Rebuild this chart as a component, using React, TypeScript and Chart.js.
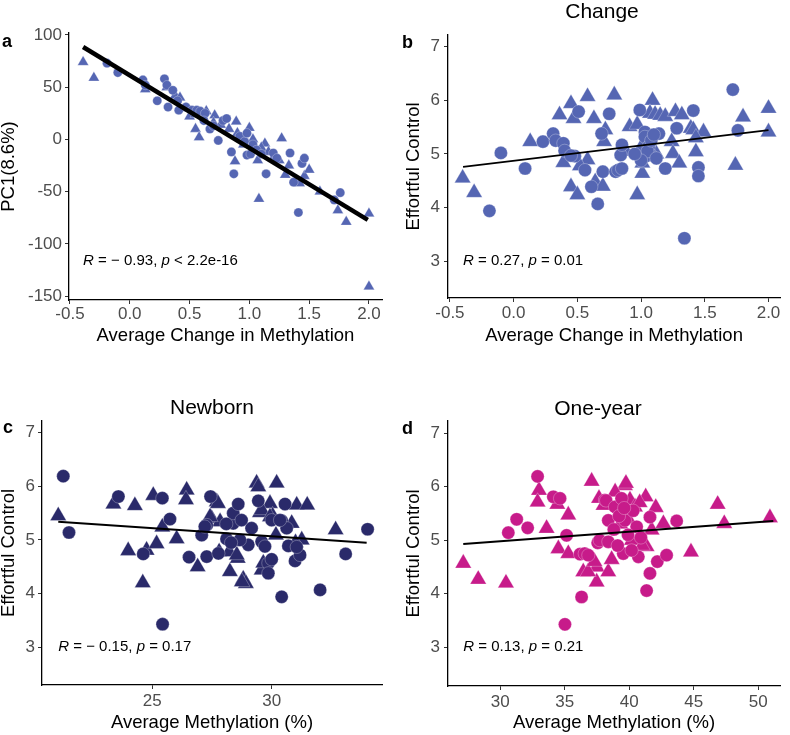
import React, { useEffect, useRef } from "react";
import { Chart, registerables } from "chart.js";

Chart.register(...registerables);

const FONT = "'Liberation Sans', Arial, Helvetica, sans-serif";

// ---------- tick values ----------
const changeTicks = [-0.5, 0, 0.5, 1, 1.5, 2];
const pcTicks = [-150, -100, -50, 0, 50, 100];
const ecTicks = [3, 4, 5, 6, 7];
const newbornTicks = [25, 30];
const oneYearTicks = [30, 35, 40, 45, 50];

// ---------- panel a: PC1 vs average change ----------
const pcCircleX = [-0.19, -0.10, 0.11, 0.13, 0.23, 0.29, 0.31, 0.32, 0.36, 0.40, 0.41, 0.47, 0.52, 0.56, 0.59, 0.63, 0.67, 0.70, 0.74, 0.78, 0.81, 0.85, 0.87, 0.92, 0.96, 0.98, 0.98, 1.01, 1.03, 1.06, 1.10, 1.14, 1.20, 1.23, 1.34, 1.37, 1.41, 1.44, 1.46, 1.71, 1.76, 0.62];
const pcCircleY = [73, 64, 57, 52, 37, 58, 52, 31, 47, 37, 28, 31, 28, 28, 27, 25, 10, 13, -1, 18, 20, -12, -33, 3, -2, 6, -15, -14, -5, -10, -14, -33, -13, -18, -13, -41, -70, -23, -18, -58, -51, 18];
const pcTriX = [-0.39, -0.30, 0.13, 0.31, 0.38, 0.42, 0.50, 0.55, 0.58, 0.55, 0.64, 0.71, 0.70, 0.76, 0.89, 0.88, 0.90, 0.95, 1.00, 1.03, 1.08, 1.13, 1.07, 1.10, 1.16, 1.27, 1.25, 1.30, 1.33, 1.42, 1.46, 1.50, 1.59, 1.74, 1.81, 2.00, 2.00, 1.20, 0.47, 0.83];
const pcTriY = [74, 59, 48, 50, 42, 40, 22, 10, 2, 24, 27, 23, 16, 14, 17, -21, 6, -5, 11, 0, -57, -4, -20, -8, -12, 1, -20, -34, -25, -42, -35, -29, -50, -68, -79, -71, -141, -18, 30, 10];
const pcFitX = [-0.39, 1.99];
const pcFitY = [88.5, -77];

// ---------- panel b: effortful control vs average change ----------
const chgCircleX = [-0.19, -0.10, 0.09, 0.23, 0.31, 0.33, 0.39, 0.40, 0.48, 0.51, 0.56, 0.61, 0.66, 0.70, 0.69, 0.75, 0.80, 0.82, 0.84, 0.85, 0.85, 0.99, 1.03, 1.03, 1.06, 1.03, 1.14, 1.19, 1.28, 1.41, 1.45, 1.45, 1.72, 1.76, 1.34, 1.05, 1.00, 1.08, 0.95, 1.12, 0.45, 1.10];
const chgCircleEC = [3.94, 5.02, 4.73, 5.23, 5.38, 5.25, 5.20, 5.06, 4.96, 5.79, 4.70, 4.39, 4.07, 4.67, 5.38, 5.75, 4.67, 4.70, 4.98, 5.17, 4.73, 5.82, 5.41, 5.32, 5.14, 4.95, 5.38, 4.73, 5.48, 5.81, 4.75, 4.59, 6.20, 5.44, 3.43, 5.05, 4.88, 5.25, 5.00, 4.92, 4.97, 5.36];
const chgTriX = [-0.40, -0.31, 0.13, 0.36, 0.45, 0.47, 0.58, 0.63, 0.79, 0.39, 0.58, 0.45, 0.50, 0.64, 0.70, 0.72, 0.71, 0.88, 0.91, 0.97, 1.09, 1.07, 1.11, 1.15, 1.19, 1.27, 1.32, 1.01, 1.01, 1.00, 1.06, 1.12, 1.10, 1.24, 1.25, 1.30, 1.39, 1.41, 1.49, 1.43, 1.43, 1.74, 1.80, 2.00, 2.00, 0.52, 0.97];
const chgTriEC = [4.55, 4.28, 5.23, 5.73, 5.94, 5.66, 6.07, 5.66, 6.10, 4.84, 4.89, 4.39, 4.24, 4.48, 4.40, 5.45, 5.23, 5.05, 5.51, 4.24, 6.00, 5.76, 5.74, 5.72, 5.70, 5.79, 5.73, 4.64, 4.83, 5.12, 5.05, 5.00, 4.95, 5.23, 5.01, 4.83, 5.48, 5.45, 5.41, 5.04, 5.30, 4.79, 5.69, 5.85, 5.41, 4.78, 5.55];
const chgFitX = [-0.397, 2.0];
const chgFitY = [4.76, 5.445];

// ---------- panel c: effortful control vs newborn methylation ----------
const nbCircleX = [21.27, 21.51, 23.58, 24.62, 25.42, 25.74, 26.54, 25.43, 27.07, 27.28, 27.28, 27.44, 27.77, 28.11, 28.39, 28.39, 28.60, 28.74, 29.02, 29.16, 29.44, 29.58, 29.86, 29.86, 29.72, 30.00, 30.00, 30.42, 30.56, 30.42, 30.63, 30.70, 30.98, 31.19, 32.03, 33.10, 34.02, 27.20, 28.67, 28.10, 30.35, 31.05, 28.30];
const nbCircleEC = [6.19, 5.14, 5.81, 4.74, 5.78, 5.39, 4.68, 3.43, 5.09, 4.69, 5.28, 5.81, 4.75, 5.02, 5.31, 5.50, 5.67, 5.37, 4.91, 5.22, 5.73, 4.97, 4.57, 4.38, 4.88, 5.37, 4.64, 3.94, 5.67, 5.36, 5.22, 4.89, 4.61, 4.72, 4.07, 4.74, 5.20, 5.25, 5.00, 5.30, 5.37, 4.87, 4.95];
const nbTriX = [21.06, 23.37, 24.27, 23.99, 24.60, 24.76, 25.04, 25.18, 25.42, 26.02, 26.44, 26.41, 26.90, 27.49, 27.70, 27.84, 27.80, 28.22, 28.25, 28.58, 28.81, 28.92, 29.37, 29.44, 29.51, 29.58, 29.65, 29.93, 30.04, 30.21, 30.18, 30.84, 31.05, 31.26, 31.49, 32.68, 28.54, 27.42, 29.58, 31.00, 28.75, 29.93, 27.75];
const nbTriEC = [5.45, 5.67, 5.64, 4.80, 4.20, 4.81, 5.83, 4.93, 5.24, 5.02, 5.93, 5.75, 4.50, 5.40, 5.71, 5.34, 4.78, 4.78, 4.41, 4.66, 4.27, 4.19, 6.06, 5.99, 5.51, 4.44, 4.57, 5.68, 5.45, 6.06, 5.09, 5.31, 5.65, 5.00, 5.65, 5.19, 4.72, 5.43, 5.56, 4.95, 4.22, 5.43, 5.68];
const nbFitX = [21.06, 33.98];
const nbFitY = [5.34, 4.95];

// ---------- panel d: effortful control vs one-year methylation ----------
const oyCircleX = [30.62, 31.27, 32.12, 32.89, 34.11, 34.63, 35.14, 35.01, 36.30, 36.18, 36.54, 36.82, 37.55, 37.70, 38.11, 38.20, 38.37, 38.37, 38.89, 39.40, 39.66, 39.53, 40.57, 40.70, 40.18, 41.60, 41.60, 41.34, 42.17, 42.89, 43.67, 39.20, 39.90, 40.30, 39.10, 38.80, 40.90, 39.60];
const oyCircleEC = [5.14, 5.39, 5.23, 6.19, 5.81, 5.78, 5.09, 3.43, 3.94, 4.74, 4.75, 4.72, 4.95, 5.00, 5.75, 5.74, 5.37, 4.97, 5.62, 5.78, 5.37, 4.75, 5.25, 4.69, 4.81, 5.43, 4.38, 4.06, 4.60, 4.72, 5.36, 5.45, 5.10, 5.55, 4.90, 5.20, 5.05, 5.60];
const oyTriX = [27.13, 28.29, 30.44, 33.00, 32.89, 33.59, 34.42, 35.27, 34.50, 35.27, 36.43, 37.08, 37.47, 37.47, 37.65, 38.00, 38.37, 38.63, 39.66, 39.74, 40.05, 40.44, 41.27, 41.34, 41.73, 42.05, 42.64, 44.78, 46.85, 47.36, 50.90, 36.80, 37.30, 39.30, 40.20, 38.90, 39.90, 41.00, 40.80];
const oyTriEC = [4.57, 4.27, 4.20, 5.93, 5.71, 5.22, 5.67, 5.47, 4.84, 4.75, 4.41, 6.10, 4.22, 4.50, 5.78, 5.65, 4.41, 4.64, 6.02, 6.06, 5.75, 5.62, 5.81, 4.88, 5.19, 5.61, 5.31, 4.78, 5.67, 5.31, 5.42, 4.41, 4.60, 5.30, 5.00, 5.90, 5.40, 4.90, 5.70];
const oyFitX = [27.13, 51.16];
const oyFitY = [4.93, 5.36];

// ---------- colours ----------
const BLUE = "#5566B3";
const NAVY = "#2A2A6A";
const MAGENTA = "#C71B8A";

type Part = { t: string; i?: boolean };

interface PanelSpec {
  left: number; top: number; w: number; h: number;
  area: { left: number; top: number; right: number; bottom: number };
  xMin: number; xMax: number; yMin: number; yMax: number;
  xTicks: number[]; yTicks: number[];
  xFmt: (v: number) => string; yFmt: (v: number) => string;
  xTitle: string; yTitle: string;
  xTickPad: number; yTickPad: number; xTitlePad: number; yTitlePad: number;
  color: string; circR: number; triR: number; lineWidth: number;
  circX: number[]; circY: number[]; triX: number[]; triY: number[];
  fitX: number[]; fitY: number[];
  letter: string; letterX: number; letterY: number;
  title?: string; titleX?: number; titleY?: number;
  statX: number; statY: number; stat: Part[];
}

const panelTextPlugin = {
  id: "panelText",
  afterDraw(chart: any, _args: any, opts: any) {
    const ctx = chart.ctx as CanvasRenderingContext2D;
    ctx.save();
    ctx.fillStyle = "#000";
    if (opts.letter) {
      ctx.font = `bold 18px ${FONT}`;
      ctx.textAlign = "left";
      ctx.textBaseline = "alphabetic";
      ctx.fillText(opts.letter, opts.letterX, opts.letterY);
    }
    if (opts.title) {
      ctx.font = `21px ${FONT}`;
      ctx.textAlign = "center";
      ctx.textBaseline = "middle";
      ctx.fillText(opts.title, opts.titleX, opts.titleY);
    }
    if (opts.stat) {
      const xs = chart.scales.x;
      const ys = chart.scales.y;
      let px = xs.getPixelForValue(opts.statX);
      const py = ys.getPixelForValue(opts.statY) + 4;
      ctx.textAlign = "left";
      ctx.textBaseline = "alphabetic";
      for (const part of opts.stat as Part[]) {
        ctx.font = `${part.i ? "italic " : ""}15px ${FONT}`;
        ctx.fillText(part.t, px, py);
        px += ctx.measureText(part.t).width;
      }
    }
    ctx.restore();
  },
};

function toPts(xs: number[], ys: number[]) {
  return xs.map((x, i) => ({ x, y: ys[i] }));
}

function buildConfig(p: PanelSpec): any {
  const xAxisH = p.h - p.area.bottom;
  const yAxisW = p.area.left;
  const tickColor = "#4D4D4D";
  return {
    type: "scatter",
    data: {
      datasets: [
        {
          type: "line",
          data: toPts(p.fitX, p.fitY),
          borderColor: "#000",
          borderWidth: p.lineWidth,
          pointRadius: 0,
          fill: false,
          tension: 0,
          order: 0,
        },
        {
          data: toPts(p.circX, p.circY),
          pointStyle: "circle",
          pointRadius: p.circR,
          backgroundColor: p.color,
          borderColor: "rgba(255,255,255,0.55)",
          borderWidth: 0.5,
          order: 1,
        },
        {
          data: toPts(p.triX, p.triY),
          pointStyle: "triangle",
          pointRadius: p.triR,
          backgroundColor: p.color,
          borderColor: "rgba(255,255,255,0.55)",
          borderWidth: 0.5,
          order: 2,
        },
      ],
    },
    options: {
      responsive: false,
      animation: false,
      events: [],
      layout: { padding: { left: 0, top: p.area.top, right: p.w - p.area.right, bottom: 0 } },
      plugins: {
        legend: { display: false },
        tooltip: { enabled: false },
        panelText: {
          letter: p.letter, letterX: p.letterX, letterY: p.letterY,
          title: p.title, titleX: p.titleX, titleY: p.titleY,
          statX: p.statX, statY: p.statY, stat: p.stat,
        },
      },
      scales: {
        x: {
          type: "linear",
          min: p.xMin,
          max: p.xMax,
          afterBuildTicks: (s: any) => { s.ticks = p.xTicks.map((v) => ({ value: v })); },
          afterFit: (s: any) => { s.height = xAxisH; },
          ticks: {
            callback: (v: any) => p.xFmt(Number(v)),
            color: tickColor,
            font: { family: FONT, size: 17, lineHeight: 1 },
            padding: p.xTickPad,
            maxRotation: 0,
            autoSkip: false,
          },
          grid: { display: true, drawOnChartArea: false, drawTicks: true, tickLength: 4, color: "#333333", lineWidth: 1 },
          border: { display: true, color: "#000", width: 1.3 },
          title: {
            display: true, text: p.xTitle, color: "#000",
            font: { family: FONT, size: 18.5, lineHeight: 1 },
            padding: { top: 0, bottom: p.xTitlePad },
          },
        },
        y: {
          type: "linear",
          min: p.yMin,
          max: p.yMax,
          afterBuildTicks: (s: any) => { s.ticks = p.yTicks.map((v) => ({ value: v })); },
          afterFit: (s: any) => { s.width = yAxisW; },
          ticks: {
            callback: (v: any) => p.yFmt(Number(v)),
            color: tickColor,
            font: { family: FONT, size: 17, lineHeight: 1 },
            padding: p.yTickPad,
            autoSkip: false,
          },
          grid: { display: true, drawOnChartArea: false, drawTicks: true, tickLength: 4, color: "#333333", lineWidth: 1 },
          border: { display: true, color: "#000", width: 1.3 },
          title: {
            display: true, text: p.yTitle, color: "#000",
            font: { family: FONT, size: 18.5, lineHeight: 1 },
            padding: { top: p.yTitlePad, bottom: 0 },
          },
        },
      },
    },
    plugins: [panelTextPlugin],
  };
}

const fmt1 = (v: number) => v.toFixed(1);
const fmt0 = (v: number) => String(Math.round(v));

const panels: PanelSpec[] = [
  {
    left: 0, top: 0, w: 395, h: 350,
    area: { left: 69, top: 33, right: 382, bottom: 300 },
    xMin: -0.508, xMax: 2.109, yMin: -153.8, yMax: 101.9,
    xTicks: changeTicks, yTicks: pcTicks, xFmt: fmt1, yFmt: fmt0,
    xTitle: "Average Change in Methylation", yTitle: "PC1(8.6%)",
    xTickPad: 2, yTickPad: 3, xTitlePad: 4.75, yTitlePad: 0,
    color: BLUE, circR: 4.6, triR: 6.4, lineWidth: 4.5,
    circX: pcCircleX, circY: pcCircleY, triX: pcTriX, triY: pcTriY,
    fitX: pcFitX, fitY: pcFitY,
    letter: "a", letterX: 2, letterY: 47,
    statX: -0.39, statY: -116.5,
    stat: [{ t: "R", i: true }, { t: " = \u2212 0.93, " }, { t: "p", i: true }, { t: " < 2.2e-16" }],
  },
  {
    left: 395, top: 0, w: 395, h: 350,
    area: { left: 53, top: 35, right: 390, bottom: 298 },
    xMin: -0.515, xMax: 2.091, yMin: 2.316, yMax: 7.218,
    xTicks: changeTicks, yTicks: ecTicks, xFmt: fmt1, yFmt: fmt0,
    xTitle: "Average Change in Methylation", yTitle: "Effortful Control",
    xTickPad: 3, yTickPad: 4, xTitlePad: 4.75, yTitlePad: 9.75,
    color: BLUE, circR: 6.6, triR: 9.4, lineWidth: 2,
    circX: chgCircleX, circY: chgCircleEC, triX: chgTriX, triY: chgTriEC,
    fitX: chgFitX, fitY: chgFitY,
    letter: "b", letterX: 7, letterY: 48,
    title: "Change", titleX: 207, titleY: 12,
    statX: -0.397, statY: 3,
    stat: [{ t: "R", i: true }, { t: " = 0.27, " }, { t: "p", i: true }, { t: " = 0.01" }],
  },
  {
    left: 0, top: 350, w: 395, h: 385,
    area: { left: 42, top: 71, right: 382, bottom: 335 },
    xMin: 20.379, xMax: 34.623, yMin: 2.297, yMax: 7.218,
    xTicks: newbornTicks, yTicks: ecTicks, xFmt: fmt0, yFmt: fmt0,
    xTitle: "Average Methylation (%)", yTitle: "Effortful Control",
    xTickPad: 4, yTickPad: 3, xTitlePad: 2.75, yTitlePad: 0,
    color: NAVY, circR: 6.6, triR: 9.4, lineWidth: 2,
    circX: nbCircleX, circY: nbCircleEC, triX: nbTriX, triY: nbTriEC,
    fitX: nbFitX, fitY: nbFitY,
    letter: "c", letterX: 3, letterY: 83,
    title: "Newborn", titleX: 212, titleY: 58,
    statX: 21.06, statY: 3,
    stat: [{ t: "R", i: true }, { t: " = \u2212 0.15, " }, { t: "p", i: true }, { t: " = 0.17" }],
  },
  {
    left: 395, top: 350, w: 395, h: 385,
    area: { left: 53, top: 71, right: 385, bottom: 336 },
    xMin: 25.946, xMax: 51.68, yMin: 2.279, yMax: 7.224,
    xTicks: oneYearTicks, yTicks: ecTicks, xFmt: fmt0, yFmt: fmt0,
    xTitle: "Average Methylation (%)", yTitle: "Effortful Control",
    xTickPad: 4, yTickPad: 4, xTitlePad: 2.75, yTitlePad: 9.75,
    color: MAGENTA, circR: 6.6, triR: 9.4, lineWidth: 2,
    circX: oyCircleX, circY: oyCircleEC, triX: oyTriX, triY: oyTriEC,
    fitX: oyFitX, fitY: oyFitY,
    letter: "d", letterX: 7, letterY: 84,
    title: "One-year", titleX: 203, titleY: 59,
    statX: 27.13, statY: 3,
    stat: [{ t: "R", i: true }, { t: " = 0.13, " }, { t: "p", i: true }, { t: " = 0.21" }],
  },
];

function Panel({ spec }: { spec: PanelSpec }) {
  const ref = useRef<HTMLCanvasElement>(null);
  useEffect(() => {
    if (!ref.current) return;
    const chart = new Chart(ref.current, buildConfig(spec));
    return () => chart.destroy();
  }, [spec]);
  return (
    <canvas
      ref={ref}
      width={spec.w}
      height={spec.h}
      style={{ position: "absolute", left: spec.left, top: spec.top, width: spec.w, height: spec.h, display: "block" }}
    />
  );
}

export default function App() {
  return (
    <div style={{ position: "absolute", left: 0, top: 0, width: 790, height: 735, background: "#fff", overflow: "hidden" }}>
      {panels.map((p, i) => (
        <Panel key={i} spec={p} />
      ))}
    </div>
  );
}
